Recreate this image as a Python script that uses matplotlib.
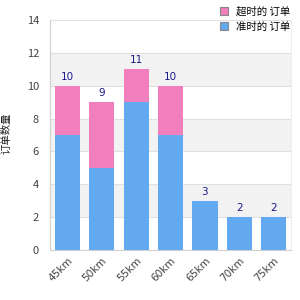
import numpy as np
import matplotlib
matplotlib.use("Agg")
import matplotlib.pyplot as plt
from matplotlib.patches import Patch

plt.rcParams['font.family'] = ['Noto Sans CJK SC', 'DejaVu Sans']

cats = ["45km", "50km", "55km", "60km", "65km", "70km", "75km"]
base = [7, 5, 9, 7, 3, 2, 2]
extra = [3, 4, 2, 3, 0, 0, 0]
lab_extra = "超时的 订单"
lab_base = "准时的 订单"
ylab = "订单数量"

blue = "#62a9f0"
pink = "#f17fbd"

fig = plt.figure(figsize=(3, 3), dpi=100)
ax = fig.add_axes([0.167, 0.167, 0.803, 0.766])

x = np.arange(len(cats))
tot = np.array(base) + np.array(extra)

for lo in [2, 6, 10]:
    ax.axhspan(lo, lo + 2, color="#f2f2f2", zorder=0, lw=0)
for y in range(0, 15, 2):
    ax.axhline(y, color="#e0e0e0", lw=0.8, zorder=0.5)

ax.bar(x, base, width=0.73, color=blue, zorder=2)
ax.bar(x, extra, bottom=base, width=0.73, color=pink, zorder=2)
for xi, t in zip(x, tot):
    ax.text(xi, t + 0.25, str(t), ha="center", va="bottom", fontsize=7.5,
            color="#1a1a8c", family="DejaVu Sans")

ax.set_xlim(-0.5, len(cats) - 0.5)
ax.set_ylim(0, 14)
ax.set_yticks(range(0, 15, 2))
ax.set_xticks(x)
ax.set_xticklabels(cats, rotation=45, ha="right", rotation_mode="anchor",
                   fontsize=7.5, color="#444444", family="DejaVu Sans")
ax.tick_params(axis="y", labelsize=8, colors="#444444", length=0, pad=8)
ax.tick_params(axis="x", length=0, pad=4)
ax.spines["top"].set_visible(False)
for s in ["left", "bottom"]:
    ax.spines[s].set_color("#d0d0d0")
ax.spines["right"].set_color("#eeeeee")

fig.text(0.022, 0.555, ylab, rotation=90, ha="center", va="center",
         fontsize=7.5, color="#222222")

handles = [Patch(facecolor=pink, edgecolor="#888888", lw=0.8),
           Patch(facecolor=blue, edgecolor="#888888", lw=0.8)]
fig.legend(handles, [lab_extra, lab_base], loc="upper right",
           bbox_to_anchor=(1.0, 1.01), frameon=False, fontsize=7.5,
           handlelength=0.8, handleheight=0.8, labelspacing=0.45,
           handletextpad=0.8)

fig.savefig("out.png", dpi=100)
